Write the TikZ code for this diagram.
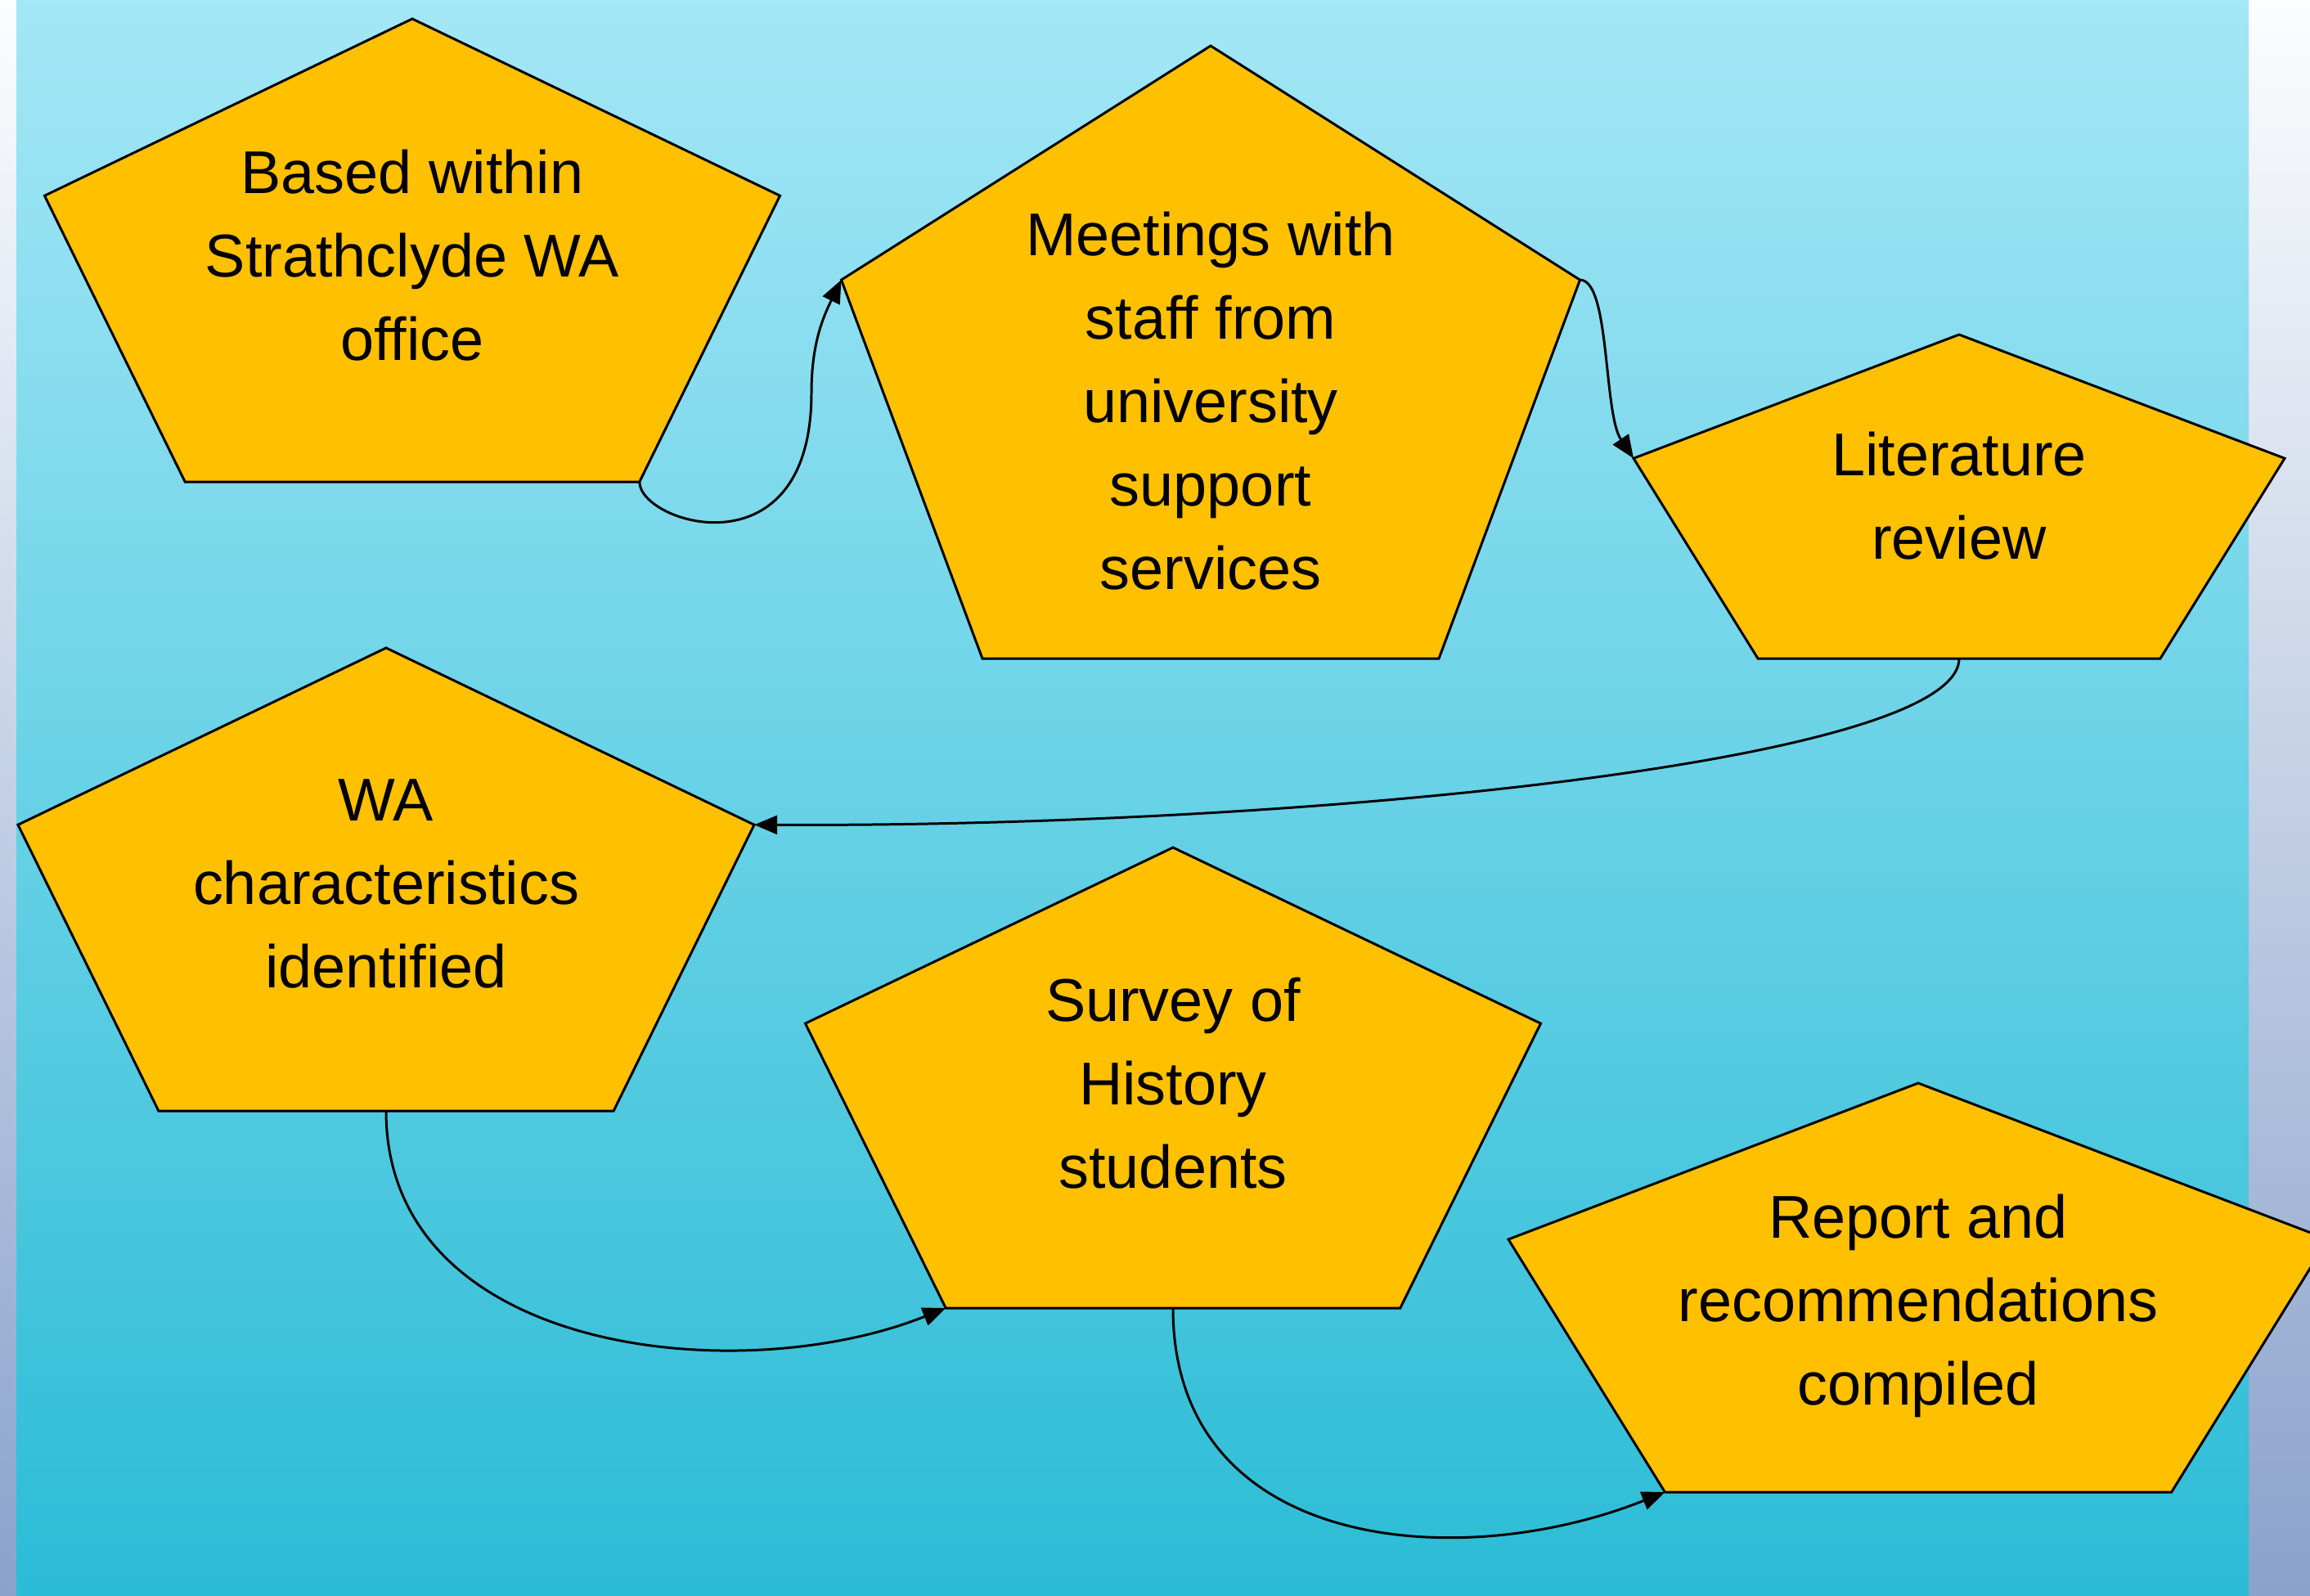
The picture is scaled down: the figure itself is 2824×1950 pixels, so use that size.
\documentclass[tikz,border=0pt]{standalone}
\usepackage{fontspec}
\setmainfont{Liberation Sans}
\usetikzlibrary{arrows.meta}

\definecolor{skytop}{HTML}{A4E7F6}
\definecolor{skybot}{HTML}{2BBCD6}
\definecolor{edgetop}{HTML}{FCFDFE}
\definecolor{edgebot}{HTML}{8AA2CC}
\definecolor{gold}{HTML}{FFC000}

% pentagon: name, centre x, top y, width, height
\newcommand\drawpent[5]{%
  \coordinate (#1-t)  at (#2,#3);
  \coordinate (#1-r)  at ({#2+0.5*#4},{#3+0.382*#5});
  \coordinate (#1-br) at ({#2+0.309*#4},{#3+#5});
  \coordinate (#1-b)  at (#2,{#3+#5});
  \coordinate (#1-bl) at ({#2-0.309*#4},{#3+#5});
  \coordinate (#1-l)  at ({#2-0.5*#4},{#3+0.382*#5});
  \draw[pent] (#1-t) -- (#1-r) -- (#1-br) -- (#1-bl) -- (#1-l) -- cycle;
}

\begin{document}
\begin{tikzpicture}[x=0.01cm, y=-0.01cm,
    pent/.style={fill=gold, draw=black, line width=0.85pt, line join=miter},
    label/.style={align=center, font=\fontsize{21}{29}\selectfont, inner sep=0pt},
    link/.style={draw=black, line width=0.85pt, -{Triangle[length=8pt, width=6.5pt]}}]

  \clip (0,0) rectangle (2824,1950);

  % Background
  \shade[top color=edgetop, bottom color=edgebot] (0,0) rectangle (2824,1950);
  \shade[top color=skytop, bottom color=skybot] (20,0) rectangle (2749,1950);

  % Pentagons
  \drawpent{base}{504}{23}{899}{566}
  \drawpent{meet}{1480}{56}{903}{749}
  \drawpent{lit}{2395}{409}{796}{396}
  \drawpent{char}{472}{792}{900}{566}
  \drawpent{survey}{1434}{1036}{899}{563}
  \drawpent{report}{2345}{1324}{1002}{500}

  % Texts
  \node[label] (basetxt) at (504,312) {Based within\\Strathclyde WA\\office};
  \node[label] (meettxt) at (1480,490) {Meetings with\\staff from\\university\\support\\services};
  \node[label] (littxt) at (2395,606) {Literature\\review};
  \node[label] (chartxt) at (472,1080) {WA\\characteristics\\identified};
  \node[label] (surveytxt) at (1434,1324) {Survey of\\History\\students};
  \node[label] (reporttxt) at (2345,1596) {Report and\\recommendations\\compiled};

  % Curved links
  \coordinate (bend) at (992,480);
  \draw[link] (base-br) .. controls +(0,51) and +(0,225) .. (bend)
    .. controls +(0,-60) and +(-22,45) .. (meet-l);
  \draw[link] (meet-r) .. controls +(37,0) and +(-37,-55) .. (lit-l);
  \draw[link] (lit-b) .. controls +(0,125) and +(678,3) .. (char-r);
  \draw[link] (char-b) .. controls +(0,299) and +(-250,100) .. (survey-bl);
  \draw[link] (survey-b) .. controls +(0,299) and +(-250,100) .. (report-bl);
\end{tikzpicture}
\end{document}
